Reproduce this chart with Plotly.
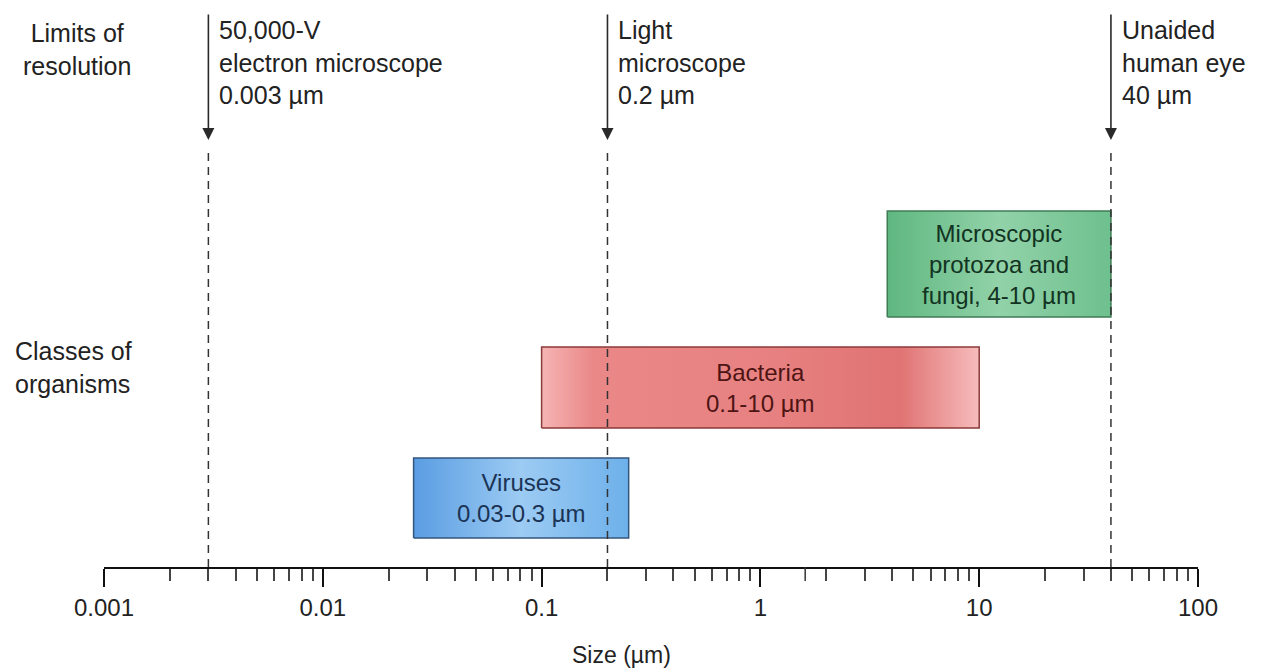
import numpy as np
import plotly.graph_objects as go

# ---- data ----
limit_names = ["50,000-V<br>electron microscope<br>0.003 µm",
               "Light<br>microscope<br>0.2 µm",
               "Unaided<br>human eye<br>40 µm"]
limit_values = [0.003, 0.2, 40]

organisms = ["Viruses<br>0.03-0.3 µm",
             "Bacteria<br>0.1-10 µm",
             "Microscopic<br>protozoa and<br>fungi, 4-10 µm"]
size_min = [0.026, 0.1, 3.8]
size_max = [0.25, 10, 40]

tick_vals = [0.001, 0.01, 0.1, 1, 10, 100]
tick_text = ["0.001", "0.01", "0.1", "1", "10", "100"]

# ---- styling (layout only) ----
# page body has an 8px margin, so the figure is shrunk/offset accordingly
OFF = 8
AX = 567           # axis pixel row in the final screenshot
H = AX - OFF       # plot height
box_rows = [(29, 109), (139, 220), (250, 356)]   # heights above axis (px)
fill_scales = [
    [[0, "#5a9de2"], [0.5, "#9ccbf3"], [1, "#6db0ea"]],
    [[0, "#f6b4b4"], [0.12, "#ea8787"], [0.5, "#e88282"], [0.82, "#e07373"], [1, "#f7bcbc"]],
    [[0, "#5fb780"], [0.5, "#92d2a9"], [1, "#6ec08e"]],
]
border_cols = ["#34557c", "#8c3a3a", "#3f7c55"]
text_cols = ["#1b3456", "#4e1414", "#123322"]
FONT = "Liberation Sans"
FS = 25
TXT = "#222222"
L0 = 104 - OFF
PW = 1198 - 104

fig = go.Figure()

# boxes
for i in range(len(organisms)):
    x0, x1 = size_min[i], size_max[i]
    y0, y1 = box_rows[i]
    fig.add_trace(go.Scatter(
        x=[x0, x1, x1, x0, x0], y=[y0, y0, y1, y1, y0],
        mode="lines", fill="toself",
        fillgradient=dict(type="horizontal", colorscale=fill_scales[i]),
        line=dict(color=border_cols[i], width=1.5),
        hoverinfo="skip", showlegend=False))
    fig.add_annotation(
        x=(np.log10(x0) + np.log10(x1)) / 2, y=(y0 + y1) / 2,
        text=organisms[i], showarrow=False,
        font=dict(family=FONT, size=FS - 1, color=text_cols[i]),
        align="center", xanchor="center", yanchor="middle")

# dashed resolution lines
for v in limit_values:
    fig.add_trace(go.Scatter(
        x=[v, v], y=[0, 420], mode="lines",
        line=dict(color="#333333", width=1.5, dash="8px,6px"),
        hoverinfo="skip", showlegend=False))
    fig.add_annotation(x=np.log10(v), y=AX - 140, ax=0, ay=-127, text="",
                       showarrow=True, arrowhead=2, arrowsize=1.5,
                       arrowwidth=1.6, arrowcolor="#2a2a2a")
    fig.add_shape(type="line", xref="x", yref="paper",
                  x0=np.log10(v), x1=np.log10(v), y0=0, y1=-14 / H,
                  line=dict(color="#333333", width=1.5))

for name, v in zip(limit_names, limit_values):
    fig.add_annotation(x=np.log10(v), y=AX - 14, text=name, showarrow=False,
                       xanchor="left", yanchor="top", align="left", xshift=9,
                       font=dict(family=FONT, size=FS, color=TXT))

# left row labels
fig.add_annotation(xref="paper", x=(77 - 104) / PW, y=AX - 49,
                   text="Limits of<br>resolution", showarrow=False,
                   xanchor="center", yanchor="middle", align="center",
                   font=dict(family=FONT, size=FS, color=TXT))
fig.add_annotation(xref="paper", x=(13 - 104) / PW, y=AX - 367,
                   text="Classes of<br>organisms", showarrow=False,
                   xanchor="left", yanchor="middle", align="left",
                   font=dict(family=FONT, size=FS, color=TXT))

# axis title
fig.add_annotation(xref="paper", yref="paper", x=(621 - 104) / PW, y=-(655 - AX) / H,
                   text="Size (µm)", showarrow=False, xanchor="center", yanchor="middle",
                   font=dict(family=FONT, size=FS - 2, color=TXT))

minor_vals = [m * 10.0 ** e for e in range(-3, 2) for m in range(2, 10)]

fig.update_layout(
    width=1271 - OFF, height=668 - OFF,
    margin=dict(l=L0, r=(1271 - OFF) - (L0 + PW), t=0, b=(668 - OFF) - H),
    plot_bgcolor="white", paper_bgcolor="white",
    xaxis=dict(type="log", range=[-3, 2], showgrid=False, zeroline=False,
               showline=True, linecolor="#111111", linewidth=2,
               tickmode="array", tickvals=tick_vals, ticktext=tick_text,
               ticks="outside", ticklen=18, tickwidth=1.5, tickcolor="#111111",
               ticklabelstandoff=0,
               tickfont=dict(family=FONT, size=FS - 1, color=TXT),
               minor=dict(tickmode="array", tickvals=minor_vals, ticks="outside",
                          ticklen=12, tickwidth=1.5, tickcolor="#444444", showgrid=False)),
    yaxis=dict(range=[0, H], visible=False, fixedrange=True),
    showlegend=False,
)

fig.write_html("out.html")
